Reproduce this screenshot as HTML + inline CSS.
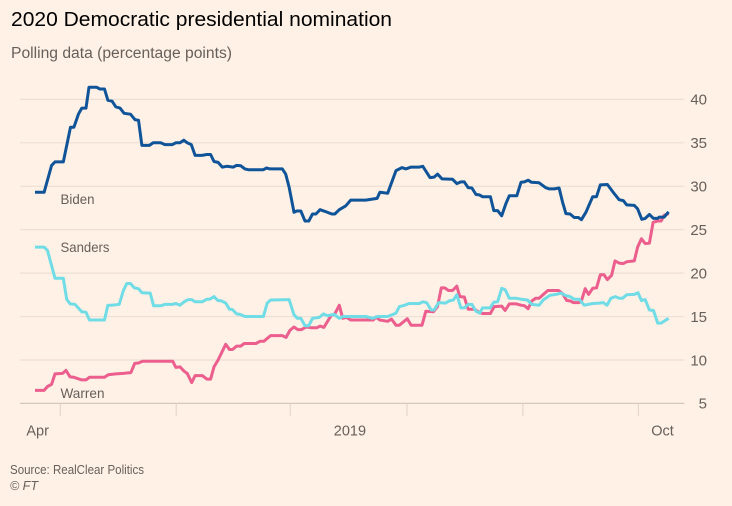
<!DOCTYPE html>
<html lang="en">
<head>
<meta charset="utf-8">
<title>2020 Democratic presidential nomination</title>
<style>
html,body{margin:0;padding:0;background:#fff1e5;}
svg{display:block;font-family:"Liberation Sans",sans-serif;}
</style>
</head>
<body>
<svg id="chart" width="732" height="506" viewBox="0 0 732 506" xmlns="http://www.w3.org/2000/svg">
<rect x="0" y="0" width="732" height="506" fill="#fff1e5"/>
<text x="11" y="26" font-size="20.5" fill="#000" textLength="381" lengthAdjust="spacingAndGlyphs">2020 Democratic presidential nomination</text>
<text x="11" y="58" font-size="15.5" fill="#66605c" textLength="221" lengthAdjust="spacingAndGlyphs">Polling data (percentage points)</text>
<g id="grid"></g>
<g id="ticks"></g>
<g id="ylabels"></g>
<g id="xlabels"></g>
<g id="lines"></g>
<text x="60.5" y="204" font-size="14" fill="#66605c" textLength="34" lengthAdjust="spacingAndGlyphs">Biden</text>
<text x="60.5" y="252" font-size="14" fill="#66605c" textLength="49" lengthAdjust="spacingAndGlyphs">Sanders</text>
<text x="60.5" y="398" font-size="14" fill="#66605c" textLength="44" lengthAdjust="spacingAndGlyphs">Warren</text>
<text x="10" y="474" font-size="12.5" fill="#66605c" textLength="134" lengthAdjust="spacingAndGlyphs">Source: RealClear Politics</text>
<text x="10" y="490" font-size="12.5" fill="#66605c" font-style="italic">© FT</text>
</svg>
<script>
// Days since the first poll, and percentage-point values, per series
const bidenDays = [0,2.4,4.4,5.3,7.5,9.4,10.3,11.5,12.4,13.5,14.3,16.3,17.2,18.4,19.3,20.4,21.4,22.5,23.6,25.3,26.5,27.4,28.3,30.3,31.3,33.3,34.4,36.4,37.3,38.4,39.4,40.3,41.4,42.4,44.2,45.5,46.5,47.4,48.5,49.6,50.8,52.5,53.4,54.5,55.6,56.5,60.5,61.3,62.2,65.5,66.4,67.3,68.6,69.3,70.4,71.5,72.5,73.5,74.4,75.5,76.8,78.6,79.4,80.6,82.3,83.6,87.6,90.6,91.35,93.4,95.6,97.2,98.2,99.6,101.8,102.7,104.6,105.7,106.6,107.8,110.6,111.7,112.8,113.7,114.7,115.7,116.8,117.7,118.5,120.6,121.5,122.5,123.6,124.7,125.6,127.6,128.7,129.6,130.6,131.5,133.5,135.2,136.2,137.5,138.8,139.7,140.6,141.7,142.8,143.9,144.7,145.9,147.7,148.7,149.7,151.6,153.4,154.7,155.8,156.7,158.7,159.6,160.7,161.6,162.7,163.8,164.9,165.3,166.6,167.8];
const bidenValues = [29.3,29.3,32.4,32.8,32.8,36.8,36.8,38.3,39,39,41.4,41.4,41.2,41.2,39.9,39.8,39.15,39,38.4,38.3,37.65,37.6,34.7,34.7,35,35,34.8,34.8,35,35,35.3,35,34.8,33.55,33.55,33.65,33.65,32.85,32.75,32.2,32.3,32.2,32.4,32.35,32,31.9,31.9,32.1,32,32,31.4,29.9,27,27.15,27.15,26,26,26.8,26.8,27.3,27.1,26.8,26.8,27.3,27.75,28.4,28.4,28.6,29.3,29.2,31.8,32.15,32,32.2,32.2,32.3,31,31.05,31.4,30.85,30.8,30.3,30.5,30.5,29.85,29.8,29.05,29,28.8,28.8,27.2,27.2,26.6,28,28.9,28.9,30.45,30.5,30.7,30.45,30.4,29.85,29.7,29.7,29.8,28.2,26.85,26.8,26.4,26.4,26.15,27,28.8,28.8,30.15,30.2,29.15,28.45,28.35,27.85,27.8,27.4,26.2,26.3,26.75,26.3,26.3,26.45,26.45,27.05];

const sandersDays = [0,2.4,3.3,5.3,7.5,8.4,9.3,10.6,12.4,13.5,14.4,18.4,19.3,20.3,22.3,23.4,24.3,25.3,26.3,27.4,28.3,30.5,31.4,33.4,34.4,36.4,37.3,38.4,39.5,40.6,41.5,42.4,44.3,45.5,46.3,47.4,48.4,49.4,50.5,51.5,52.3,53.4,54.3,55.6,60.5,61.5,62.4,67.3,68.6,69.5,70.4,71.5,72.5,73.5,75.3,76.4,77.4,79.3,80.6,81.6,87.6,89.4,90.7,93.4,95.6,96.5,97.5,99.1,101.8,102.7,103.7,104.9,105.7,106.9,108.7,109.7,110.8,111.7,112.8,113.7,114.7,115.7,116.8,117.8,118.5,120.5,121.5,122.5,123.6,124.5,125.6,127.5,128.7,130.4,131.6,133.5,134.6,136.4,138,139.3,140.6,141.7,142.8,144.1,145.5,147.7,149.4,150.5,151.5,152.5,153.7,154.7,155.6,156.7,158.7,159.7,160.6,161.6,162.7,163.8,164.9,165.8,167.8];
const sandersValues = [23,23,22.6,19.4,19.4,17,16.45,16.4,15.55,15.5,14.6,14.6,16.3,16.3,16.4,18,18.8,18.8,18.3,18.2,17.75,17.7,16.25,16.25,16.4,16.4,16.5,16.3,16.7,16.95,16.95,16.7,16.7,17,17,17.3,16.85,16.8,16.55,15.85,15.8,15.3,15.25,15,15,16.55,16.9,16.95,15.2,14.8,14.8,13.95,13.95,14.8,14.9,15.3,15.1,15.25,14.8,15,15,14.8,15,15,15.4,16.15,16.25,16.5,16.5,16.7,16.6,15.75,15.75,16.6,16.55,16.8,16.9,17.5,16,16,16.4,16.4,15.6,15.4,16,16,16.65,16.7,18.25,18.1,17.1,17.1,17,16.9,16.4,16.3,16.9,17.45,17.55,17.7,17.4,17.3,17,17,16.3,16.5,16.55,16.6,16.3,17.1,17.3,17.1,17.1,17.5,17.55,17.75,16.85,16.95,15.75,15.7,14.25,14.25,14.8];

const warrenDays = [0,2.4,3.3,4.4,5.3,7.3,8.2,9.3,10.3,12.4,13.5,14.4,18.4,19.4,20.5,21.4,23.4,25.4,26.4,27.4,28.5,36.5,37.3,38.4,39.5,40.3,41.5,42.4,44.3,45.5,46.5,47.4,48.5,50.5,51.5,52.3,53.4,54.5,55.4,58.5,59.6,60.6,62.4,65.5,66.5,67.5,68.6,69.6,70.6,71.8,73.3,74.6,75.5,76.5,78.4,79.4,80.6,81.5,82.5,83.6,87.6,89.6,90.3,91.3,93.4,94.4,95.6,96.5,98.6,99.6,102.5,103.5,105.5,106.6,107.6,108.5,109.5,110.6,111.7,112.5,113.7,114.7,116.4,117.7,118.5,120.6,121.6,123.6,124.5,125.6,127.5,128.7,129.6,130.6,131.6,132.6,133.5,135.8,138.7,139.7,140.8,141.7,142.6,144.1,144.7,145.7,146.6,147.7,148.7,149.7,150.7,151.6,152.7,153.6,154.7,155.8,156.7,158.7,159.6,160.6,161.6,162.7,163.7,164.9,165.8,166.6,167.8];
const warrenValues = [6.5,6.5,6.95,7.2,8.4,8.45,8.8,8.05,8,7.7,7.7,8,8,8.3,8.35,8.4,8.45,8.55,9.6,9.65,9.85,9.85,9.15,9.2,8.7,8.45,7.4,8.2,8.2,7.8,7.8,9.2,10,11.8,11.2,11.2,11.6,11.6,11.9,11.9,12.15,12.15,12.8,12.8,12.6,13.4,13.8,13.5,13.5,13.8,13.7,13.7,13.9,13.75,15.1,15.3,16.3,14.8,14.9,14.6,14.6,14.6,14.95,14.6,14.45,14.7,14,14,14.75,14,14,15.6,15.55,16.15,18.3,18.3,18,18,18.5,17.3,17.25,15.85,15.85,15.45,15.35,15.35,16.15,16.2,15.7,16.45,16.45,16.3,16.25,15.9,16.8,17.1,17.1,18,18,17.65,16.85,16.8,16.6,16.6,16.8,18.2,17.55,18.25,18.3,19.8,19.8,19.25,19.75,21.4,21.15,21.1,21.3,21.4,23,23.95,23.4,23.45,25.85,26,26,26.65,26.85];

const yTickValues = [5,10,15,20,25,30,35,40];
const monthTickDays = [6.7,37.4,67.6,98.5,129.2,159.8];
const xLabelTexts = ['Apr','2019','Oct'];
const xLabelDays = [0.7,83.4,166.2];

const NS = 'http://www.w3.org/2000/svg';
const xScale = d => 35 + d * 3.776;
const yScale = v => 403.4 - (v - 5) * 8.686;
const PLOT_LEFT = 20, PLOT_RIGHT = 684.5;

function make(tag, parent, props) {
  const el = document.createElementNS(NS, tag);
  for (const k in props) el.setAttribute(k, props[k]);
  parent.appendChild(el);
  return el;
}

const gridG = document.getElementById('grid');
yTickValues.forEach(v => {
  const line = make('line', gridG, {x1: PLOT_LEFT, x2: PLOT_RIGHT, y1: yScale(v), y2: yScale(v), stroke: v === 5 ? '#d3c8bc' : '#ebe0d5', 'stroke-width': 1.2});
  
  
});

const ticksG = document.getElementById('ticks');
monthTickDays.forEach(d => {
  const tick = make('line', ticksG, {x1: xScale(d), x2: xScale(d), y1: yScale(5), y2: yScale(5) + 12.5, stroke: '#e3d8cc', 'stroke-width': 1.2});
  
  
});

const yLabelG = document.getElementById('ylabels');
yTickValues.forEach(v => {
  const t = make('text', yLabelG, {x: 707, y: yScale(v) + 5.3, 'text-anchor': 'end', 'font-size': 15, fill: '#66605c'});
  t.textContent = String(v);
  
  
});

const xLabelG = document.getElementById('xlabels');
xLabelTexts.forEach((s, i) => {
  const t = make('text', xLabelG, {x: xScale(xLabelDays[i]), y: 435.5, 'text-anchor': 'middle', 'font-size': 14.5, fill: '#66605c'});
  t.textContent = s;
  
  
});

function drawLine(days, values, color) {
  const pts = days.map((d, i) => xScale(d).toFixed(1) + ',' + yScale(values[i]).toFixed(1)).join(' ');
  return make('polyline', document.getElementById('lines'), {points: pts, fill: 'none', stroke: color, 'stroke-width': 3, 'stroke-linejoin': 'round', 'stroke-linecap': 'butt'});
}

const warrenLine = drawLine(warrenDays, warrenValues, '#eb5e8d');


const sandersLine = drawLine(sandersDays, sandersValues, '#70dce6');


const bidenLine = drawLine(bidenDays, bidenValues, '#0f5499');


</script>
</body>
</html>
